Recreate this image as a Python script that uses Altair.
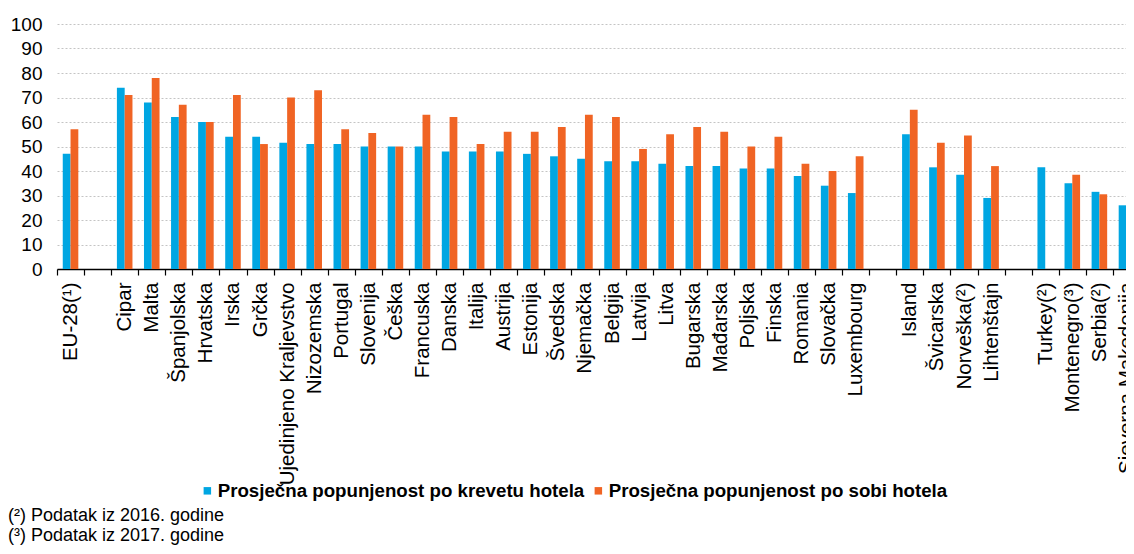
import altair as alt
import pandas as pd

categories = ["EU-28(¹)", " ", "Cipar", "Malta", "Španjolska", "Hrvatska", "Irska", "Grčka",
              "Ujedinjeno Kraljevstvo", "Nizozemska", "Portugal", "Slovenija", "Češka",
              "Francuska", "Danska", "Italija", "Austrija", "Estonija", "Švedska", "Njemačka",
              "Belgija", "Latvija", "Litva", "Bugarska", "Mađarska", "Poljska", "Finska",
              "Romania", "Slovačka", "Luxembourg", "  ", "Island", "Švicarska", "Norveška(²)",
              "Lihtenštajn", "   ", "Turkey(²)", "Montenegro(³)", "Serbia(²)", "Sjeverna Makedonija"]

bed = [47, None, 74, 68, 62, 60, 54, 54, 51.5, 51, 51, 50, 50,
       50, 48, 48, 48, 47, 46, 45, 44, 44, 43, 42, 42, 41, 41,
       38, 34, 31, None, 55, 41.5, 38.5, 29, None, 41.5, 35, 31.5, 26]
room = [57, None, 71, 78, 67, 60, 71, 51, 70, 73, 57, 55.5, 50,
        63, 62, 51, 56, 56, 58, 63, 62, 49, 55, 58, 56, 50, 54,
        43, 40, 46, None, 65, 51.5, 54.5, 42, None, None, 38.5, 30.5, 43]

series = ["Prosječna popunjenost po krevetu hotela", "Prosječna popunjenost po sobi hotela"]
colors = ["#00A6E2", "#F06424"]
footnotes = ["(²) Podatak iz 2016. godine", "(³) Podatak iz 2017. godine"]

rows = []
for c, b, r in zip(categories, bed, room):
    if b is not None:
        rows.append({"cat": c, "series": series[0], "value": b})
    if r is not None:
        rows.append({"cat": c, "series": series[1], "value": r})
df = pd.DataFrame(rows)

FONT = "Liberation Sans"

bars = alt.Chart(df).mark_bar().encode(
    x=alt.X("cat:N", sort=categories,
            scale=alt.Scale(domain=categories, range=[0, 1083], paddingInner=0, paddingOuter=0),
            axis=alt.Axis(title=None, labelAngle=270, labelFontSize=20.5, labelFont=FONT,
                          labelColor="#000000", domainColor="#000000", domainWidth=1.5,
                          tickColor="#000000", tickSize=6, tickWidth=1.2, tickBand="extent",
                          labelPadding=7, grid=False, labelOverlap=False, labelLimit=400)),
    xOffset=alt.XOffset("series:N", sort=series,
                        scale=alt.Scale(domain=series, paddingInner=0, paddingOuter=0.74)),
    y=alt.Y("value:Q",
            scale=alt.Scale(domain=[0, 100], nice=False),
            axis=alt.Axis(title=None, values=list(range(0, 101, 10)), domain=False, ticks=False,
                          labelFontSize=19, labelFont=FONT, labelColor="#000000", labelPadding=15,
                          gridColor="#C4C4C4", gridDash=[2, 2], gridWidth=1)),
    color=alt.Color("series:N", sort=series,
                    scale=alt.Scale(domain=series, range=colors),
                    legend=alt.Legend(title=None, orient="none", direction="horizontal",
                                      legendX=141, legendY=457, symbolType="square",
                                      symbolSize=56, symbolStrokeWidth=0, labelFontSize=18.7,
                                      labelFont=FONT, labelFontWeight="bold", labelColor="#000000",
                                      labelOffset=1, columnPadding=4, labelLimit=600)),
)

layers = [bars]
for i, note in enumerate(footnotes):
    layers.append(
        alt.Chart(pd.DataFrame({"t": [note]})).mark_text(
            align="left", baseline="alphabetic", fontSize=18, font=FONT, color="#000000"
        ).encode(x=alt.value(-49), y=alt.value(497 + 20 * i), text="t:N")
    )

chart = alt.layer(*layers).properties(
    width=1069, height=245,
    autosize=alt.AutoSizeParams(type="none"),
    padding={"left": 49, "top": 16, "right": 0, "bottom": 277},
).configure_view(stroke=None)

chart.save("out.html", embed_options={"renderer": "svg", "actions": False})
